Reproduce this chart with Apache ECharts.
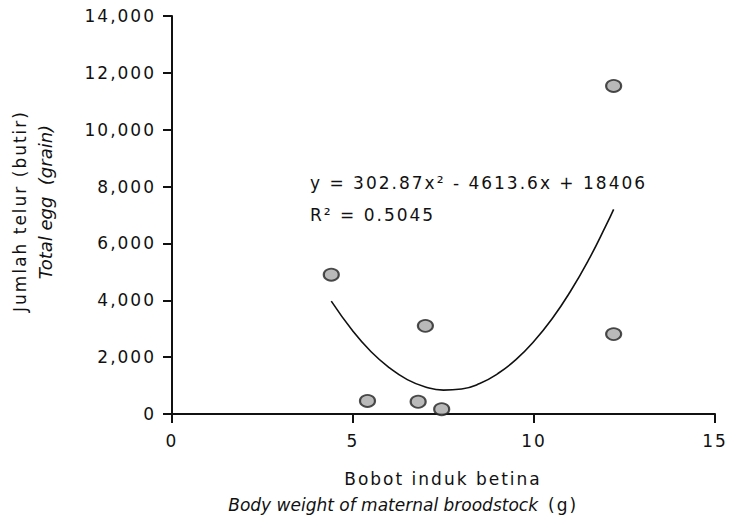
<!DOCTYPE html>
<html>
<head>
<meta charset="utf-8">
<script src="https://cdn.jsdelivr.net/npm/echarts@6/dist/echarts.min.js"></script>
<style>
  html, body { margin: 0; padding: 0; background: #fff; }
  #chart { width: 729px; height: 520px; }
  /* huruf di gambar asli agak renggang, kecuali yang miring */
  #chart svg text { letter-spacing: 2px; }
  #chart svg text[style*="italic"], #chart svg text[font-style="italic"] { letter-spacing: 0; }
</style>
</head>
<body>
<div id="chart"></div>
<script>
// bobot induk (g) vs jumlah telur
const bodyWeight = [4.4, 5.4, 6.8, 7.0, 7.45, 12.2, 12.2]
const eggCount = [4900, 460, 430, 3100, 170, 11540, 2810]

// garis tren polinomial
const trendX = [4.4, 5, 5.5, 6, 6.5, 7, 7.5, 8, 8.5, 9, 9.5, 10, 10.5, 11, 11.5, 12, 12.2]
const trendY = [3970, 2910, 2190, 1630, 1210, 950, 840, 880, 1070, 1420, 1910, 2560, 3350, 4300, 5400, 6660, 7200]

const xTicks = [0, 5, 10, 15]
const yMax = 14000

const font = 'DejaVu Sans'
const txt = '17px "DejaVu Sans"'
const tick = { show: true, length: 9, lineStyle: { color: '#111', width: 2 } }

let chart = echarts.init(document.getElementById('chart'), null, { renderer: 'svg' })
chart.setOption({
  animation: false,
  grid: { left: 172, right: 14, top: 16, bottom: 106 },
  xAxis: {
    type: 'value',
    min: xTicks[0],
    max: xTicks[xTicks.length - 1],
    interval: 5,
    splitLine: { show: false },
    axisLine: { lineStyle: { color: '#111', width: 2 } },
    axisTick: tick,
    axisLabel: { color: '#111', fontFamily: font, fontSize: 17, margin: 18 }
  },
  yAxis: {
    type: 'value',
    min: 0,
    max: yMax,
    interval: 2000,
    splitLine: { show: false },
    axisLine: { show: true, lineStyle: { color: '#111', width: 2 } },
    axisTick: tick,
    axisLabel: {
      color: '#111', fontFamily: font, fontSize: 17, margin: 16,
      formatter: v => v.toLocaleString('en-US')
    }
  },
  series: [
    {
      type: 'line',
      data: trendX.map((x, i) => [x, trendY[i]]),
      smooth: true,
      showSymbol: false,
      lineStyle: { color: '#111', width: 1.6 },
      z: 2
    },
    {
      type: 'scatter',
      data: bodyWeight.map((x, i) => [x, eggCount[i]]),
      symbol: 'circle',
      symbolSize: [15, 12],
      itemStyle: { color: '#a8a8a8', borderColor: '#222', borderWidth: 2 },
      z: 3
    }
  ],
  graphic: [
    {
      type: 'text', left: 310, top: 174,
      style: { text: 'y = 302.87x² - 4613.6x + 18406', font: txt, fill: '#111' }
    },
    {
      type: 'text', left: 310, top: 206,
      style: { text: 'R² = 0.5045', font: txt, fill: '#111' }
    },
    {
      type: 'text', x: 20, y: 211, rotation: Math.PI / 2,
      style: { text: 'Jumlah telur (butir)', font: txt, fill: '#111', align: 'center', verticalAlign: 'middle' }
    },
    {
      type: 'text', x: 45, y: 202, rotation: Math.PI / 2,
      style: { text: 'Total egg  (grain)', font: 'italic 18px "DejaVu Sans"', fill: '#111', align: 'center', verticalAlign: 'middle' }
    },
    {
      type: 'text', x: 443, y: 479,
      style: { text: 'Bobot induk betina', font: txt, fill: '#111', align: 'center', verticalAlign: 'middle' }
    },
    {
      type: 'text', x: 538, y: 505,
      style: { text: 'Body weight of maternal broodstock', font: 'italic ' + txt, fill: '#111', align: 'right', verticalAlign: 'middle' }
    },
    {
      type: 'text', x: 548, y: 505,
      style: { text: '(g)', font: txt, fill: '#111', align: 'left', verticalAlign: 'middle' }
    }
  ]
})
</script>
</body>
</html>
